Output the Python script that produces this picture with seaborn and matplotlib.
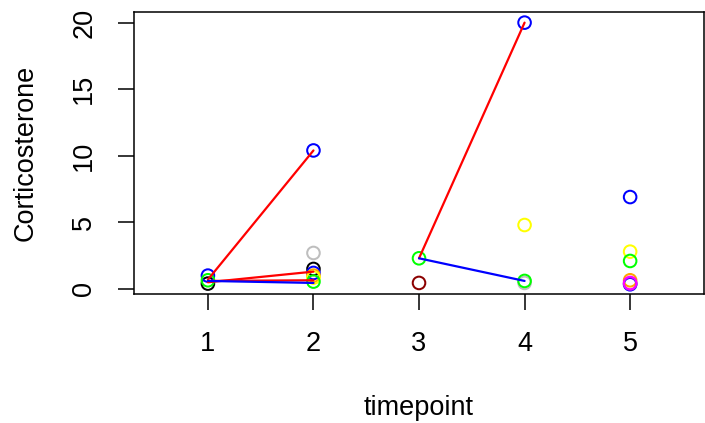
import matplotlib
matplotlib.use('Agg')
import matplotlib.pyplot as plt
import pandas as pd
import seaborn as sns

timepoint = [1, 1, 1,
             2, 2, 2, 2, 2, 2, 2,
             3, 3,
             4, 4, 4, 4,
             5, 5, 5, 5, 5, 5, 5]
cort = [0.4, 1.0, 0.65,
        1.5, 1.2, 1.0, 0.85, 0.55, 2.7, 10.4,
        2.3, 0.45,
        20.0, 4.8, 0.45, 0.6,
        6.9, 2.8, 2.1, 0.65, 0.35, 0.4, 0.45]
colour = ['black', 'blue', 'green',
          'black', 'blue', 'orange', 'yellow', 'green', 'grey', 'blue',
          'green', 'darkred',
          'blue', 'yellow', 'grey', 'green',
          'blue', 'yellow', 'green', 'orange', 'blue', 'purple', 'magenta']

# connecting segments
seg_id = [1, 1, 2, 2, 3, 3, 4, 4, 5, 5, 6, 6]
seg_time = [1, 2, 1, 2, 1, 2, 1, 2, 3, 4, 3, 4]
seg_cort = [0.7, 10.4, 0.5, 1.3, 0.6, 0.65, 0.6, 0.45, 2.3, 20.0, 2.3, 0.6]
seg_colour = ['red', 'red', 'red', 'red', 'red', 'red',
              'blue', 'blue', 'red', 'red', 'blue', 'blue']

r_cols = {'black': '#000000', 'blue': '#0000FF', 'green': '#00FF00',
          'orange': '#FFA500', 'yellow': '#FFFF00', 'grey': '#BEBEBE',
          'darkred': '#8B0000', 'purple': '#A020F0', 'magenta': '#FF00FF',
          'red': '#FF0000'}

pts = pd.DataFrame({'timepoint': timepoint, 'Corticosterone': cort, 'col': colour})
segs = pd.DataFrame({'id': seg_id, 'timepoint': seg_time,
                     'Corticosterone': seg_cort, 'col': seg_colour})

sns.set_style('ticks')
plt.rcParams['font.family'] = ['Liberation Sans', 'DejaVu Sans']
plt.rcParams['text.color'] = 'black'
plt.rcParams['axes.labelcolor'] = 'black'

fig = plt.figure(figsize=(7.05, 4.23), dpi=100)
ax = fig.add_axes([0.1901, 0.305, 0.8085, 0.6667])

sns.scatterplot(data=pts, x='timepoint', y='Corticosterone', hue='col',
                palette=r_cols, s=82, linewidth=1.45, legend=False, ax=ax)
coll = ax.collections[0]
coll.set_edgecolor(coll.get_facecolor())
coll.set_facecolor('none')

sns.lineplot(data=segs, x='timepoint', y='Corticosterone', units='id',
             hue='col', palette=r_cols, estimator=None, sort=False,
             linewidth=1.6, legend=False, ax=ax)

ax.set_xlim(0.3, 5.7)
ax.set_ylim(-0.38, 20.8)
ax.set_xticks([1, 2, 3, 4, 5])
ax.set_yticks([0, 5, 10, 15, 20])
fs = 19.5
ax.tick_params(axis='both', direction='out', length=11.5, width=1.1,
               labelsize=fs, pad=15, color='black', labelcolor='black')
for lab in ax.get_yticklabels():
    lab.set_rotation(90)
    lab.set_va('center')
for sp in ax.spines.values():
    sp.set_visible(True)
    sp.set_linewidth(1.1)
    sp.set_color('black')

ax.set_xlabel('timepoint', fontsize=fs, color='black')
ax.set_ylabel('Corticosterone', fontsize=fs, color='black')
ax.xaxis.set_label_coords(0.5, -0.404)
ax.xaxis.label.set_va('center')
ax.yaxis.set_label_coords(-0.191, 0.5)
ax.yaxis.label.set_va('center')

fig.savefig('out.png', dpi=100)
plt.close(fig)
